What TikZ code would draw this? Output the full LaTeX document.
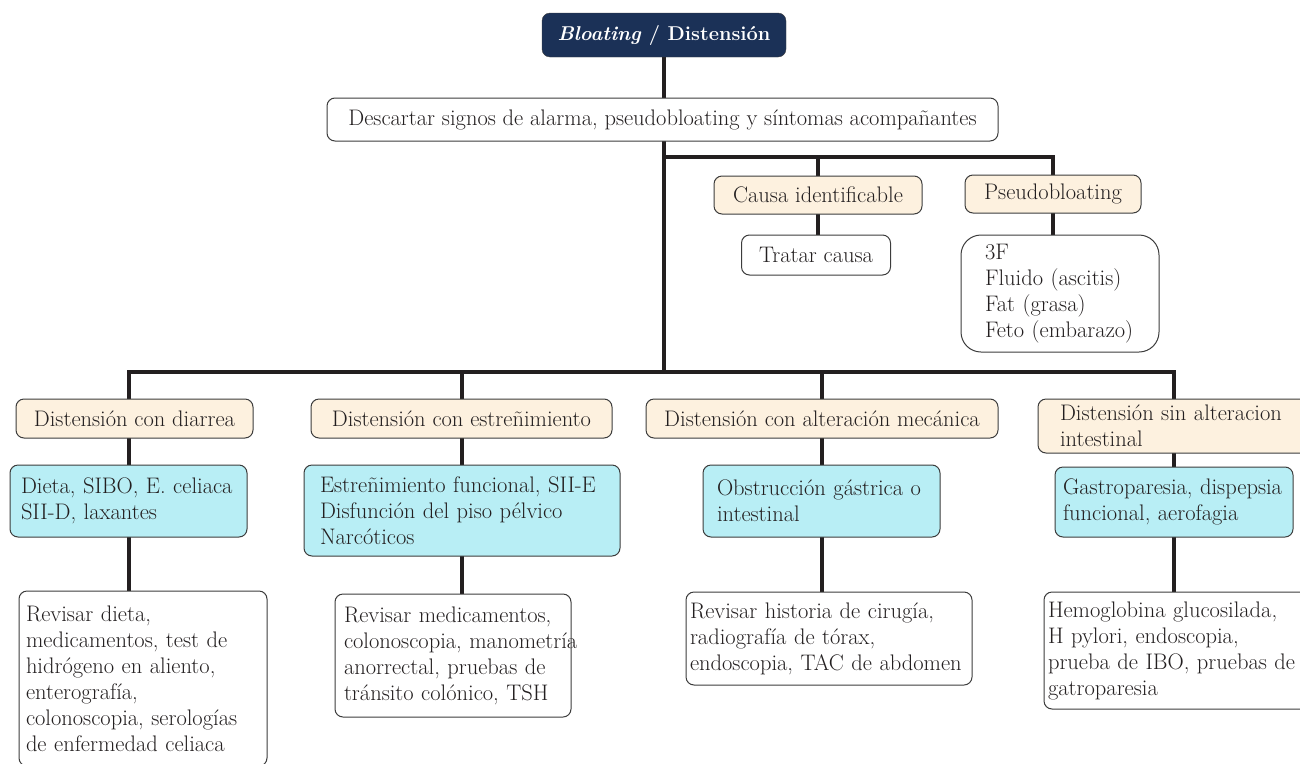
\documentclass[tikz,border=0pt]{standalone}
\usepackage{fontspec}
\usepackage{tikz}
\usetikzlibrary{backgrounds}
\definecolor{navyc}{HTML}{1B3157}
\definecolor{creamc}{HTML}{FDF1DF}
\definecolor{cyanc}{HTML}{B8EEF5}
\definecolor{bordc}{HTML}{3C3C3C}
\definecolor{linec}{HTML}{231F20}

\begin{document}
\begin{tikzpicture}[x=1pt,y=-1pt,
  every node/.style={font=\fontsize{22.5}{26}\selectfont,text=linec},
  bx/.style={draw=bordc,line width=1pt,rounded corners=8pt,inner ysep=2pt},
  creambox/.style={bx,fill=creamc},
  cyanbox/.style={bx,fill=cyanc,align=left},
  whitebox/.style={bx,fill=white,align=left},
  ln/.style={draw=linec,line width=4pt}]
\useasboundingbox (0,0) rectangle (1300,763);
%------------- top
\node[draw=bordc,fill=navyc,rounded corners=8pt,minimum width=244pt,minimum height=44pt,
  text=white,font=\fontsize{20}{24}\selectfont\bfseries] (title) at (664,35) {\textit{Bloating} / Distensión};
\node[whitebox,minimum width=671pt,minimum height=43pt] (desc) at (662.5,119.5)
  {Descartar signos de alarma, pseudobloating y síntomas acompañantes};
\node[creambox,minimum width=208pt,minimum height=38pt] (causa) at (818,195) {Causa identificable};
\node[creambox,minimum width=176pt,minimum height=38pt] (pseudo) at (1053,194) {Pseudobloating};
\node[whitebox,minimum width=149pt,minimum height=40pt] (tratar) at (816,255) {Tratar causa};
\node[whitebox,rounded corners=20pt,inner xsep=24pt,text width=150pt,minimum height=117pt] (tresf) at (1060,293.5)
  {3F\\Fluido (ascitis)\\Fat (grasa)\\\mbox{Feto (embarazo)}};
%------------- row 1
\node[creambox,minimum width=237pt,minimum height=39pt] (diar) at (134.5,418.5) {Distensión con diarrea};
\node[creambox,minimum width=301pt,minimum height=39pt] (estr) at (461.5,418.5) {Distensión con estreñimiento};
\node[creambox,minimum width=352pt,minimum height=39pt] (mec) at (822,418.5) {Distensión con alteración mecánica};
\node[creambox,align=left,inner xsep=22pt,text width=230pt,minimum height=54pt] (sinalt) at (1175,426)
  {\mbox{Distensión sin alteracion}\\intestinal};
%------------- row 2
\node[cyanbox,inner xsep=11pt,text width=215pt,minimum height=72pt] (dieta) at (128.5,501)
  {\mbox{Dieta, SIBO, E. celiaca}\\SII-D, laxantes};
\node[cyanbox,inner xsep=16pt,text width=284pt,minimum height=91pt] (estrf) at (462,510.5)
  {\mbox{Estreñimiento funcional, SII-E}\\Disfunción del piso pélvico\\Narcóticos};
\node[cyanbox,inner xsep=14pt,text width=209pt,minimum height=72pt] (obst) at (821.5,501)
  {\mbox{Obstrucción gástrica o}\\intestinal};
\node[cyanbox,inner xsep=8pt,text width=222pt,minimum height=70pt] (gastro) at (1174,502)
  {\mbox{Gastroparesia, dispepsia}\\funcional, aerofagia};
%------------- row 3
\node[whitebox,inner xsep=7pt,text width=234pt,minimum height=175pt] (rdieta) at (143,678.5)
  {Revisar dieta,\\medicamentos, test de\\hidrógeno en aliento,\\enterografía,\\\mbox{colonoscopia, serologías}\\de enfermedad celiaca};
\node[whitebox,inner xsep=9pt,text width=218pt,minimum height=123pt] (rmed) at (453,655.5)
  {Revisar medicamentos,\\\mbox{colonoscopia, manometría}\\anorrectal, pruebas de\\tránsito colónico, TSH};
\node[whitebox,inner xsep=4pt,text width=278pt,minimum height=93pt] (rhist) at (829,638.5)
  {Revisar historia de cirugía,\\radiografía de tórax,\\\mbox{endoscopia, TAC de abdomen}};
\node[whitebox,inner xsep=4pt,text width=258pt,minimum height=117pt] (rhemo) at (1177,650.5)
  {Hemoglobina glucosilada,\\H pylori, endoscopia,\\\mbox{prueba de IBO, pruebas de}\\gatroparesia};
%------------- connectors
\begin{scope}[on background layer]
\coordinate (jt) at (664,157);
\coordinate (jb) at (664,372);
\draw[ln] (title) -- (jb);
\draw[ln] (jt) -- (jt -| pseudo) -- (pseudo |- tresf.north);
\draw[ln] (jt -| causa) -- (causa |- tratar.north);
\draw[ln] (dieta |- rdieta.north) -- (jb -| dieta) -- (jb -| gastro) -- (gastro |- rhemo.north);
\draw[ln] (jb -| estrf) -- (estrf |- rmed.north);
\draw[ln] (jb -| obst) -- (obst |- rhist.north);
\end{scope}
\end{tikzpicture}
\end{document}
